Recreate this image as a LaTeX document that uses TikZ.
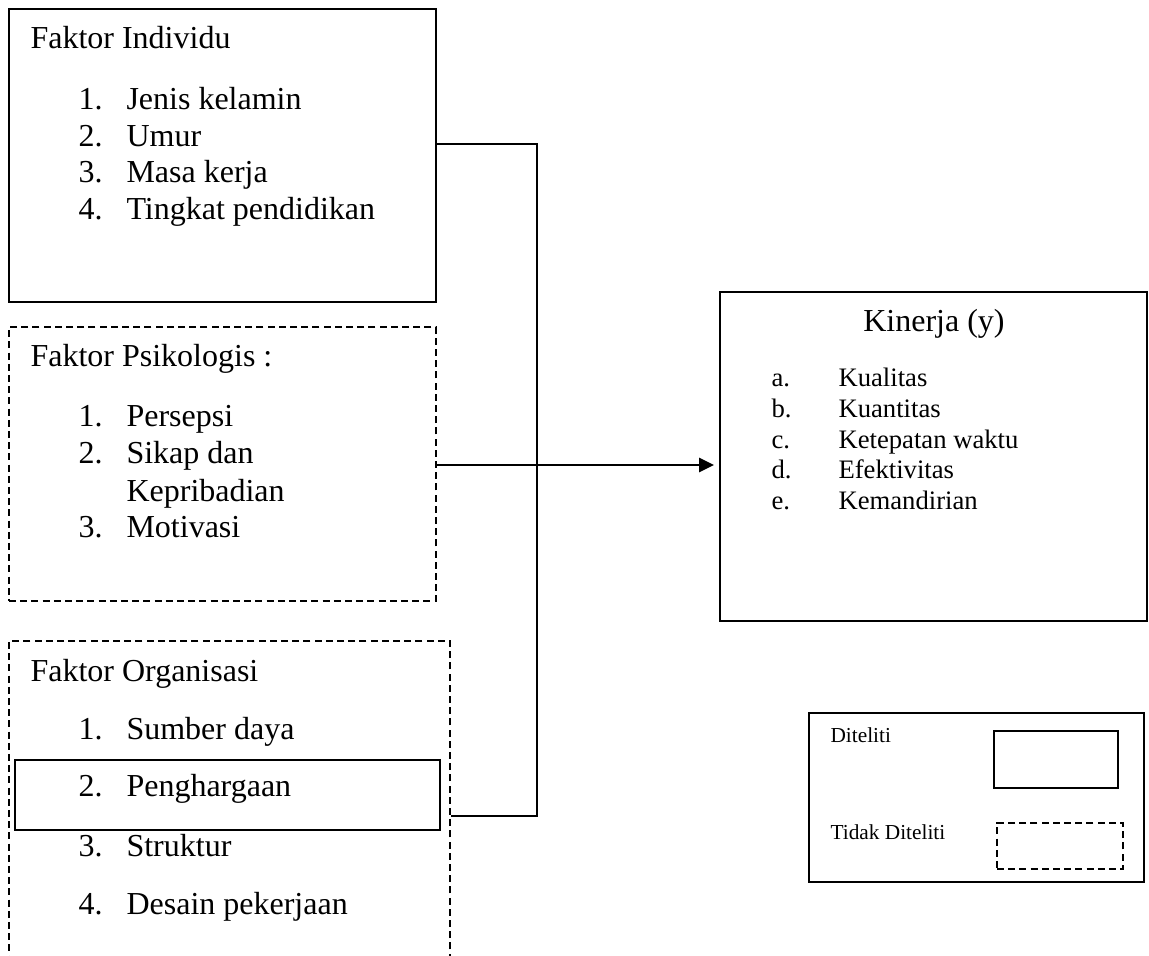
\documentclass[tikz,border=0pt]{standalone}
\usepackage{fontspec}
\setmainfont{Liberation Serif}
\usetikzlibrary{arrows.meta,fit}

\begin{document}
\begin{tikzpicture}[
                    x = 0.375pt,
                    y = -0.375pt,
          box/.style = {draw, line width=0.5pt, inner sep=0pt},
         dbox/.style = {box, dash pattern=on 2.6pt off 1.6pt},
          txt/.style = {anchor=base west, inner sep=0pt, font=\fontsize{12}{14}\selectfont},
        small/.style = {txt, font=\fontsize{10}{12}\selectfont},
         tiny/.style = {txt, font=\fontsize{8}{10}\selectfont},
                   ]
\useasboundingbox (0,0) rectangle (1149,956);
\clip (0,0) rectangle (1149,956);

% faktor individu (diteliti)
\node[box, fit={(9,9) (436,302)}] (indiv) {};
\node[txt] (tIndiv) at (30,49) {Faktor Individu};
\node[txt] (nI1) at (78,110) {1.};  \node[txt] (iI1) at (126,110) {Jenis kelamin};
\node[txt] (nI2) at (78,147) {2.};  \node[txt] (iI2) at (126,147) {Umur};
\node[txt] (nI3) at (78,183) {3.};  \node[txt] (iI3) at (126,183) {Masa kerja};
\node[txt] (nI4) at (78,220) {4.};  \node[txt] (iI4) at (126,220) {Tingkat pendidikan};

% faktor psikologis (tidak diteliti)
\node[dbox, fit={(9,327) (436,601)}] (psiko) {};
\node[txt] (tPsiko) at (30,367) {Faktor Psikologis :};
\node[txt] (nP1) at (78,427) {1.};  \node[txt] (iP1) at (126,427) {Persepsi};
\node[txt] (nP2) at (78,464) {2.};  \node[txt] (iP2) at (126,464) {Sikap dan};
                                    \node[txt] (iP2b) at (126,502) {Kepribadian};
\node[txt] (nP3) at (78,538) {3.};  \node[txt] (iP3) at (126,538) {Motivasi};

% faktor organisasi, hanya penghargaan yang diteliti
\node[dbox, fit={(9,641) (450,990)}] (organ) {};
\node[box, fit={(15,760) (440,830)}] (harga) {};
\node[txt] (tOrgan) at (30,682) {Faktor Organisasi};
\node[txt] (nO1) at (78,740) {1.};  \node[txt] (iO1) at (126,740) {Sumber daya};
\node[txt] (nO2) at (78,797) {2.};  \node[txt] (iO2) at (126,797) {Penghargaan};
\node[txt] (nO3) at (78,857) {3.};  \node[txt] (iO3) at (126,857) {Struktur};
\node[txt] (nO4) at (78,915) {4.};  \node[txt] (iO4) at (126,915) {Desain pekerjaan};

% kinerja
\node[box, fit={(720,292) (1147,621)}] (kinerja) {};
\node[txt, anchor=base] (tKinerja) at (934,332) {Kinerja (y)};
\node[small] (nK1) at (771,387) {a.};  \node[small] (iK1) at (838,387) {Kualitas};
\node[small] (nK2) at (771,418) {b.};  \node[small] (iK2) at (838,418) {Kuantitas};
\node[small] (nK3) at (771,449) {c.};  \node[small] (iK3) at (838,449) {Ketepatan waktu};
\node[small] (nK4) at (771,479) {d.};  \node[small] (iK4) at (838,479) {Efektivitas};
\node[small] (nK5) at (771,510) {e.};  \node[small] (iK5) at (838,510) {Kemandirian};

% keterangan
\node[box, fit={(809,713) (1144,882)}] (legend) {};
\node[tiny] (lDit) at (830,743) {Diteliti};
\node[tiny] (lTdk) at (830,840) {Tidak Diteliti};
\node[box, fit={(994,731) (1118,788)}] (legSolid) {};
\node[dbox, fit={(997,823) (1123,869)}] (legDash) {};

% penghubung
\coordinate (jTop) at (537,144);
\coordinate (jBot) at (537,816);
\coordinate (jMid) at (537,465);
\draw[line width=0.5pt] (indiv.east |- jTop) -- (jTop) -- (jBot) -- (organ.east |- jBot);
\draw[line width=0.75pt, -{Triangle[length=5.6pt, width=5.3pt]}, shorten >=2pt]
    (psiko.east |- jMid) -- (kinerja.west |- jMid);
\end{tikzpicture}
\end{document}
